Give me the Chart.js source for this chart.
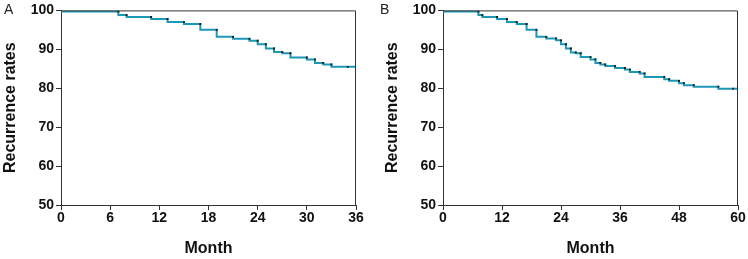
<!DOCTYPE html>
<html>
<head>
<meta charset="utf-8">
<script src="https://cdn.jsdelivr.net/npm/chart.js@4.4.0/dist/chart.umd.min.js"></script>
<style>
  body { margin: 0; background: #fff; width: 748px; height: 259px; overflow: hidden; position: relative; font-family: "Liberation Sans", Arial, sans-serif; }
  .panel { position: absolute; top: 0; height: 259px; }
  .tag { position: absolute; top: 1px; font-size: 14px; color: #222; }
</style>
</head>
<body>
<div class="panel" style="left:0;width:374px"><canvas id="chartA"></canvas></div>
<div class="panel" style="left:382px;width:366px"><canvas id="chartB"></canvas></div>
<span class="tag" style="left:4px">A</span>
<span class="tag" style="left:380px">B</span>
<script>
// Panel A: 36-month follow-up
const monthsA = [0, 7, 8, 11, 13, 15, 17, 19, 21, 23, 24, 25, 26, 27, 28, 30, 31, 32, 33, 35, 36];
const ratesA = [100, 99.7, 98.8, 98.3, 97.8, 97.0, 96.5, 95.0, 93.2, 92.7, 92.2, 91.3, 90.2, 89.3, 89.0, 87.9, 87.4, 86.5, 86.1, 85.5, 85.5];
const ticksA = [0, 6, 12, 18, 24, 30, 36];

// Panel B: 60-month follow-up
const monthsB = [0, 7.2, 8, 11, 13, 15, 17, 19, 21, 23, 24, 25, 26, 27, 28, 30, 31, 32, 33, 35, 37, 38, 40, 41, 45, 46, 48, 49, 51, 56, 59, 60];
const ratesB = [100, 99.7, 98.8, 98.3, 97.8, 97.0, 96.5, 95.0, 93.2, 92.8, 92.3, 91.3, 90.2, 89.2, 89.0, 88.0, 87.4, 86.5, 86.1, 85.7, 85.2, 84.8, 84.2, 83.8, 82.9, 82.3, 81.9, 81.3, 80.8, 80.4, 79.9, 79.9];
const ticksB = [0, 12, 24, 36, 48, 60];

const yTicks = [50, 60, 70, 80, 90, 100];

const lineColor = '#1a98b6';
const axisColor = '#333';

// draws the top and right edges of the plot box
const boxPlugin = {
    id: 'box',
    afterDraw(chart) {
        const a = chart.chartArea;
        const ctx = chart.ctx;
        ctx.save();
        ctx.strokeStyle = axisColor;
        ctx.lineWidth = 1;
        ctx.beginPath();
        ctx.moveTo(a.left, a.top + 0.5);
        ctx.lineTo(a.right - 0.5, a.top + 0.5);
        ctx.lineTo(a.right - 0.5, a.bottom);
        ctx.stroke();
        ctx.restore();
    }
};

function makeChart(id, months, rates, xTicks, xMax, padRight) {
    const ctx = document.getElementById(id).getContext('2d');
    new Chart(ctx, {
        type: 'line',
        data: {
            datasets: [{
                data: months.map((m, i) => ({ x: m, y: rates[i] })),
                borderColor: lineColor,
                borderWidth: 2,
                stepped: 'after',
                fill: false,
                pointStyle: 'rect',
                pointRadius: (c) => c.dataIndex === 0 ? 0 : 1.3,
                pointBackgroundColor: '#111',
                pointBorderColor: '#111',
                pointBorderWidth: 0
            }]
        },
        options: {
            responsive: true,
            maintainAspectRatio: false,
            animation: false,
            layout: { padding: { left: 0, right: padRight, top: 10, bottom: 0 } },
            plugins: { legend: { display: false }, tooltip: { enabled: false } },
            scales: {
                x: {
                    type: 'linear',
                    min: 0,
                    max: xMax,
                    afterFit: (s) => { s.height = 54; },
                    afterBuildTicks: (s) => { s.ticks = xTicks.map(v => ({ value: v })); },
                    border: { color: axisColor, width: 1 },
                    grid: { drawOnChartArea: false, color: axisColor, tickLength: 5 },
                    ticks: {
                        color: '#111',
                        padding: 0,
                        maxRotation: 0,
                        font: { family: 'Liberation Sans, Arial', size: 14, weight: 'bold' }
                    },
                    title: {
                        display: true,
                        text: 'Month',
                        color: '#111',
                        padding: { top: 0, bottom: 1 },
                        font: { family: 'Liberation Sans, Arial', size: 16, weight: 'bold' }
                    }
                },
                y: {
                    min: 50,
                    max: 100,
                    afterFit: (s) => { s.width = 61; },
                    afterBuildTicks: (s) => { s.ticks = yTicks.map(v => ({ value: v })); },
                    border: { color: axisColor, width: 1 },
                    grid: { drawOnChartArea: false, color: axisColor, tickLength: 5 },
                    ticks: {
                        color: '#111',
                        padding: 2,
                        font: { family: 'Liberation Sans, Arial', size: 14, weight: 'bold' }
                    },
                    title: {
                        display: true,
                        text: 'Recurrence rates',
                        color: '#111',
                        padding: { top: 1, bottom: 0 },
                        font: { family: 'Liberation Sans, Arial', size: 16, weight: 'bold' }
                    }
                }
            }
        },
        plugins: [boxPlugin]
    });
}

makeChart('chartA', monthsA, ratesA, ticksA, 36, 18);
makeChart('chartB', monthsB, ratesB, ticksB, 60, 10);
</script>
</body>
</html>
